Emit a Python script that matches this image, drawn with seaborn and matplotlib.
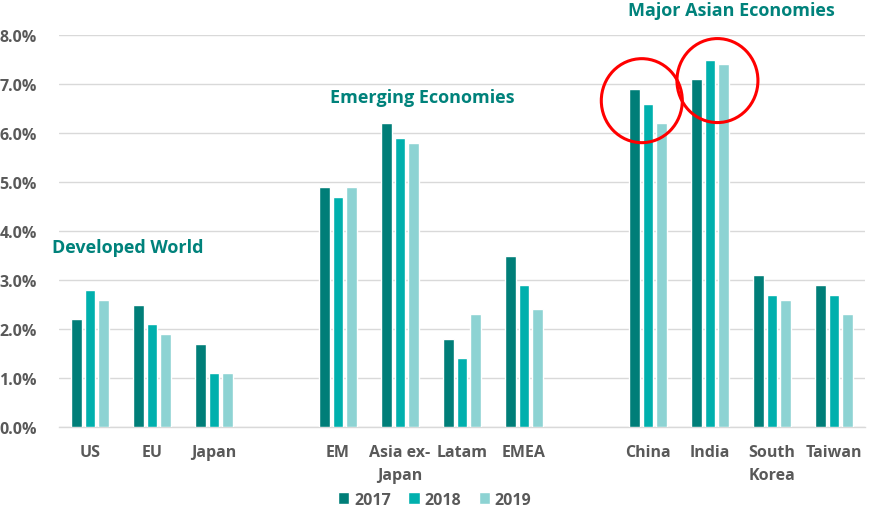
import numpy as np
import pandas as pd
import matplotlib
matplotlib.use("Agg")
import matplotlib.pyplot as plt
import matplotlib.patches as mpatches
import seaborn as sns

# growth by region, % per year
regions = ["US", "EU", "Japan",
           "EM", "Asia ex-\nJapan", "Latam", "EMEA",
           "China", "India", "South\nKorea", "Taiwan"]
g2017 = [2.2, 2.5, 1.7, 4.9, 6.2, 1.8, 3.5, 6.9, 7.1, 3.1, 2.9]
g2018 = [2.8, 2.1, 1.1, 4.7, 5.9, 1.4, 2.9, 6.6, 7.5, 2.7, 2.7]
g2019 = [2.6, 1.9, 1.1, 4.9, 5.8, 2.3, 2.4, 6.2, 7.4, 2.6, 2.3]
years = ["2017", "2018", "2019"]

# spacer slots between the three groups
order = ["US", "EU", "Japan", " ",
         "EM", "Asia ex-\nJapan", "Latam", "EMEA", "  ",
         "China", "India", "South\nKorea", "Taiwan"]

groups = [("Developed World", -0.61, 3.67),
          ("Emerging Economies", 3.87, 6.73),
          ("Major Asian Economies", 8.68, 8.51)]

TEAL_D = "#007E78"
TEAL_M = "#00B0AD"
TEAL_L = "#8DD3D3"
GREY = "#595959"
LABEL_TEAL = "#00827B"

df = pd.DataFrame({
    "region": regions * 3,
    "year": np.repeat(years, len(regions)),
    "growth": g2017 + g2018 + g2019,
})

sns.set_theme(style="white")
plt.rcParams["font.family"] = ["Open Sans", "DejaVu Sans"]

fig = plt.figure(figsize=(8.72, 5.10), dpi=100)
ax = fig.add_axes([59 / 872, 1 - 428 / 510, 806 / 872, 392 / 510])

sns.barplot(data=df, x="region", y="growth", hue="year",
            order=order, hue_order=years,
            palette={"2017": TEAL_D, "2018": TEAL_M, "2019": TEAL_L},
            saturation=1, width=0.66, gap=0.2, errorbar=None,
            ax=ax, zorder=3)

ax.set_xlim(-0.5, len(order) - 0.5)
ax.set_ylim(0, 8)
ax.set_yticks(np.arange(0, 9, 1))
ax.set_yticklabels([f"{v:.1f}%" for v in np.arange(0, 9, 1)])
ax.set_xlabel("")
ax.set_ylabel("")
ax.yaxis.grid(True, color="#D9D9D9", linewidth=1.0, zorder=0)
ax.set_axisbelow(True)
for s in ["top", "right", "left"]:
    ax.spines[s].set_visible(False)
ax.spines["bottom"].set_color("#D9D9D9")
ax.spines["bottom"].set_linewidth(1.0)

ax.tick_params(axis="y", length=0, pad=16, labelsize=11.5, labelcolor=GREY)
ax.tick_params(axis="x", length=0, pad=12, labelsize=11.5, labelcolor=GREY)
for lab in ax.get_yticklabels() + ax.get_xticklabels():
    lab.set_fontweight("bold")
for lab in ax.get_xticklabels():
    lab.set_linespacing(1.6)
    lab.set_verticalalignment("top")

for name, gx, gy in groups:
    ax.text(gx, gy, name, fontsize=13, fontweight="bold",
            color=LABEL_TEAL, ha="left", va="center", clip_on=False)

# red circles around China and India
for cx, cy in [(8.9, 6.66), (10.12, 7.07)]:
    ax.add_patch(mpatches.Ellipse((cx, cy), 81 / 62, 84 / 49,
                                  fill=False, edgecolor="#FF0000",
                                  linewidth=2.2, zorder=5, clip_on=False))

sns.move_legend(ax, "center", bbox_to_anchor=(0.466, -0.185), ncol=3,
                frameon=False, title=None, handlelength=0.7,
                handleheight=0.7, handletextpad=0.3, columnspacing=1.1,
                prop={"weight": "bold", "size": 11.5})
for t in ax.get_legend().get_texts():
    t.set_color(GREY)

fig.savefig("out.png", dpi=100, facecolor="white")
